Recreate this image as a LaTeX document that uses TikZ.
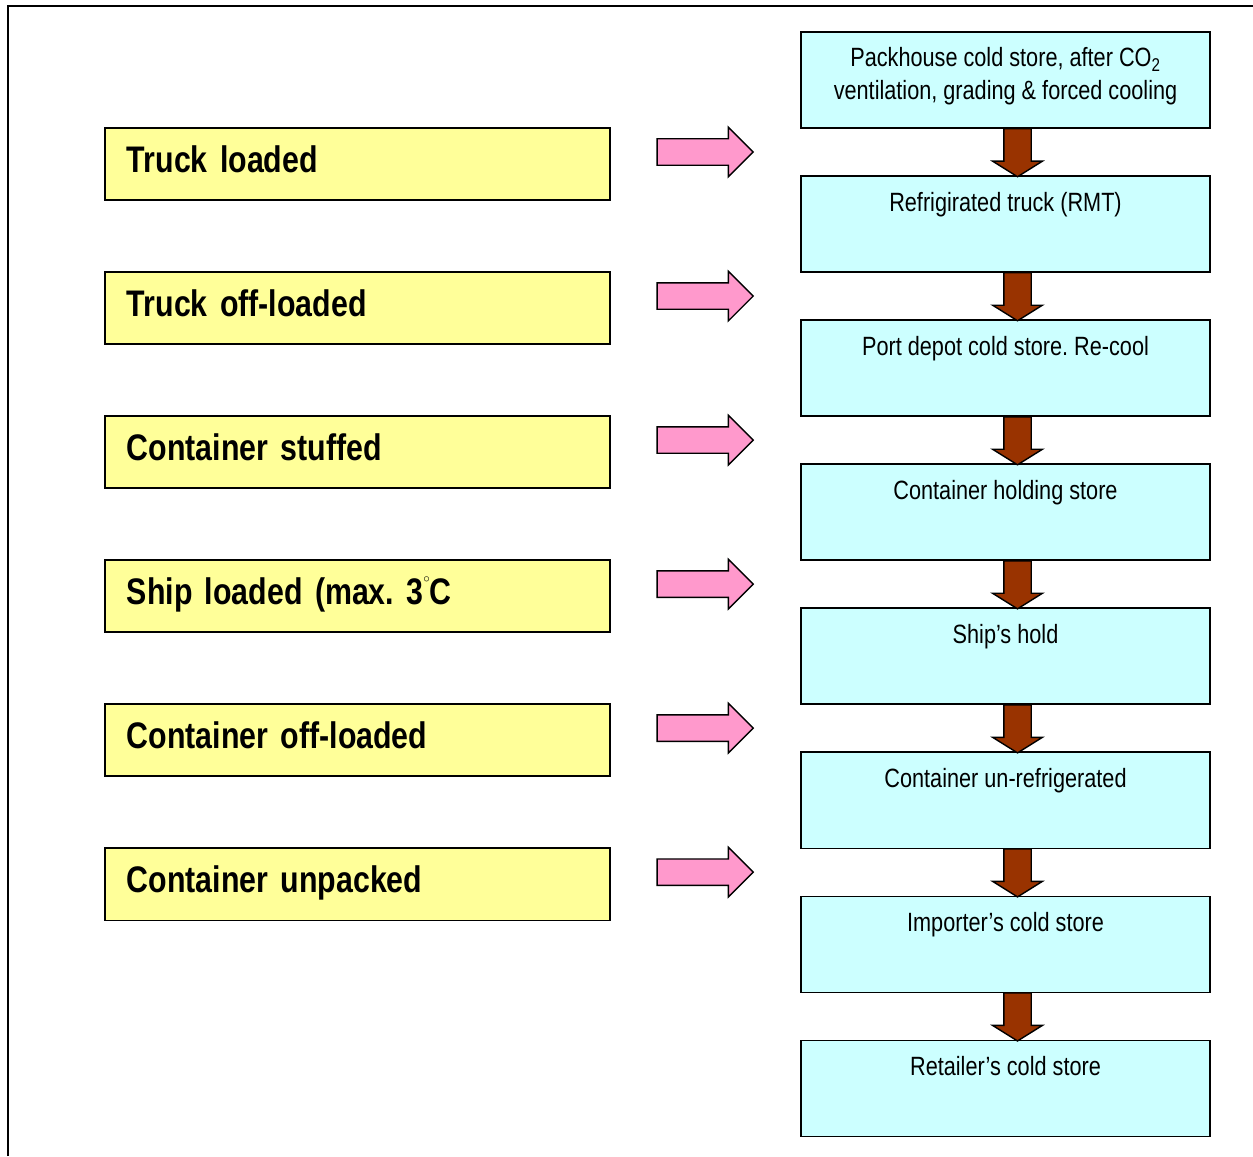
\documentclass[tikz,border=0pt]{standalone}
\usepackage{fontspec}
\setmainfont{Liberation Sans}[FakeStretch=0.82]
\usepackage{tikz}
\usetikzlibrary{positioning}
\usetikzlibrary{shapes.arrows}

\definecolor{stagecyan}{HTML}{CCFFFF}
\definecolor{eventyellow}{HTML}{FFFF99}
\definecolor{eventpink}{HTML}{FF99CC}
\definecolor{flowbrown}{HTML}{993300}

\begin{document}
\frenchspacing
\begin{tikzpicture}[x=0.025cm,y=-0.025cm,
    stage box/.style={draw,line width=1pt,outer sep=0pt,fill=stagecyan,minimum width=10.225cm,minimum height=2.4cm,inner ysep=0pt,text height=0.875cm,text depth=1.525cm,align=center,font=\fontsize{18.8}{22.8}\selectfont},
    event box/.style={draw,line width=1pt,outer sep=0pt,fill=eventyellow,minimum width=12.625cm,minimum height=1.8cm,text width=11.525cm,inner xsep=0.55cm,align=left,text height=0.5cm,text depth=0.085cm,font=\fontsize{26.3}{30}\selectfont\bfseries},
    event arrow/.style={single arrow,draw,line width=1pt,fill=eventpink,inner xsep=0pt,inner ysep=0.3125cm,single arrow head extend=0.29cm,minimum width=1.2cm,minimum height=2.4cm,single arrow tip angle=90},
    flow arrow/.style={single arrow,draw,line width=1pt,fill=flowbrown,inner xsep=0pt,inner ysep=0.325cm,single arrow head extend=0.28cm,minimum width=1.2cm,minimum height=1.2cm,single arrow tip angle=116,rotate=-90,anchor=west}]

    \useasboundingbox (0,0) rectangle (1253,1156);
    \draw[line width=1.5pt] (8,1156) -- (8,6) -- (1253,6);

		% cold chain stages
		\node[stage box][text height=1.675cm,text depth=0.725cm](r1) at (1005.5,80){Packhouse cold store, after CO\textsubscript{2}\\ventilation, grading \& forced cooling};
		\node[stage box](r2)[below = 1.2cm of r1]{Refrigirated truck (RMT)};
		\node[stage box](r3)[below = 1.2cm of r2]{Port depot cold store. Re-cool};
		\node[stage box](r4)[below = 1.2cm of r3]{Container holding store};
		\node[stage box](r5)[below = 1.2cm of r4]{Ship’s hold};
		\node[stage box](r6)[below = 1.2cm of r5]{Container un-refrigerated};
		\node[stage box](r7)[below = 1.2cm of r6]{Importer’s cold store};
		\node[stage box](r8)[below = 1.2cm of r7]{Retailer’s cold store};

		% handling events
		\node[event box](l1) at (357.5,164){Truck loaded};
		\node[event box](l2)[below = 1.8cm of l1]{Truck off-loaded};
		\node[event box](l3)[below = 1.8cm of l2]{Container stuffed};
		\node[event box](l4)[below = 1.8cm of l3]{Ship loaded (max. 3\raisebox{0.6em}{\fontsize{9}{9}\selectfont$\circ$}C};
		\node[event box](l5)[below = 1.8cm of l4]{Container off-loaded};
		\node[event box](l6)[below = 1.8cm of l5]{Container unpacked};

		\foreach \i in {1,...,6}
		    \node[event arrow](p\i) at ([xshift=2.2125cm,yshift=-0.6cm]l\i.north east){};

		\foreach \i in {1,...,7}
		    \node[flow arrow](a\i) at ([xshift=0.3cm]r\i.south){};

\end{tikzpicture}
\end{document}
